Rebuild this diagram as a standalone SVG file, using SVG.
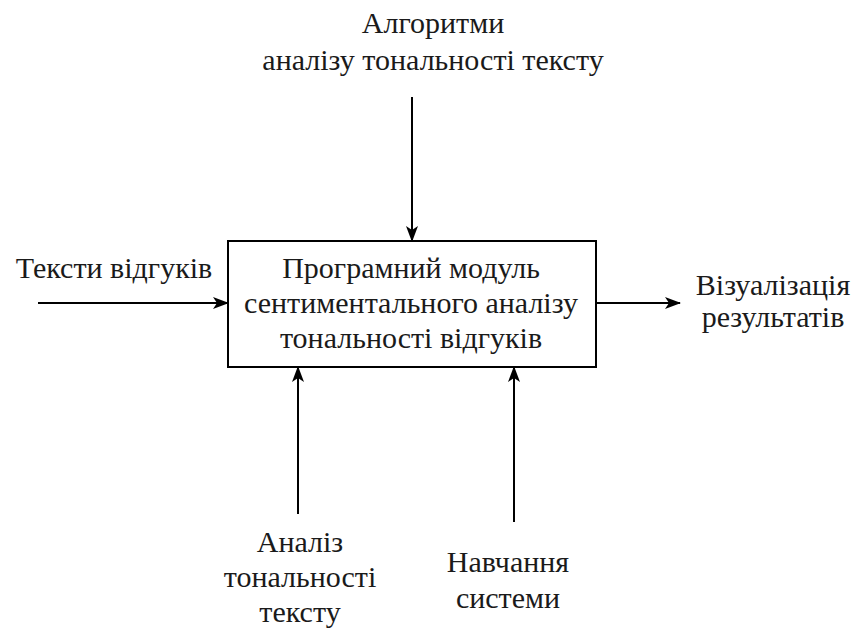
<svg xmlns="http://www.w3.org/2000/svg" width="858" height="628" viewBox="0 0 858 628">
<defs>
<marker id="ah" viewBox="0 0 16 12" refX="15" refY="6" markerWidth="16" markerHeight="12" markerUnits="userSpaceOnUse" orient="auto">
<path d="M0,0 L16,6 L0,12 L4,6 Z" fill="#000"/>
</marker>
</defs>
<rect width="858" height="628" fill="#fff"/>
<g font-family="Liberation Serif, Noto Serif, DejaVu Serif, serif" font-size="30" fill="#1a1a1a" text-anchor="middle">
<g id="module">
<rect x="228" y="241" width="368" height="126" fill="#fff" stroke="#000" stroke-width="2"/>
<text font-family="Liberation Serif" x="411" y="278">Програмний модуль</text>
<text font-family="Liberation Serif" x="411" y="313">сентиментального аналізу</text>
<text font-family="Liberation Serif" x="411" y="348">тональності відгуків</text>
</g>
<g id="algorithms"><text font-family="Liberation Serif" x="433" y="33">Алгоритми</text><text font-family="Liberation Serif" x="433" y="70">аналізу тональності тексту</text></g>
<g id="input"><text font-family="Liberation Serif" x="114" y="278">Тексти відгуків</text></g>
<g id="output"><text font-family="Liberation Serif" x="773" y="295">Візуалізація</text><text font-family="Liberation Serif" x="773" y="327">результатів</text></g>
<g id="analysis"><text font-family="Liberation Serif" x="300" y="552">Аналіз</text><text font-family="Liberation Serif" x="300" y="587">тональності</text><text font-family="Liberation Serif" x="300" y="622">тексту</text></g>
<g id="training"><text font-family="Liberation Serif" x="508" y="572">Навчання</text><text font-family="Liberation Serif" x="508" y="608">системи</text></g>
</g>
<g id="connectors" stroke="#000" stroke-width="2" fill="none">
<line marker-end="url(#ah)" x1="412" y1="97" x2="412" y2="241"/>
<line marker-end="url(#ah)" x1="38" y1="303" x2="228" y2="303"/>
<line marker-end="url(#ah)" x1="596" y1="303" x2="680" y2="303"/>
<line marker-end="url(#ah)" x1="298" y1="514" x2="298" y2="367"/>
<line marker-end="url(#ah)" x1="514" y1="522" x2="514" y2="367"/>
</g>
</svg>
